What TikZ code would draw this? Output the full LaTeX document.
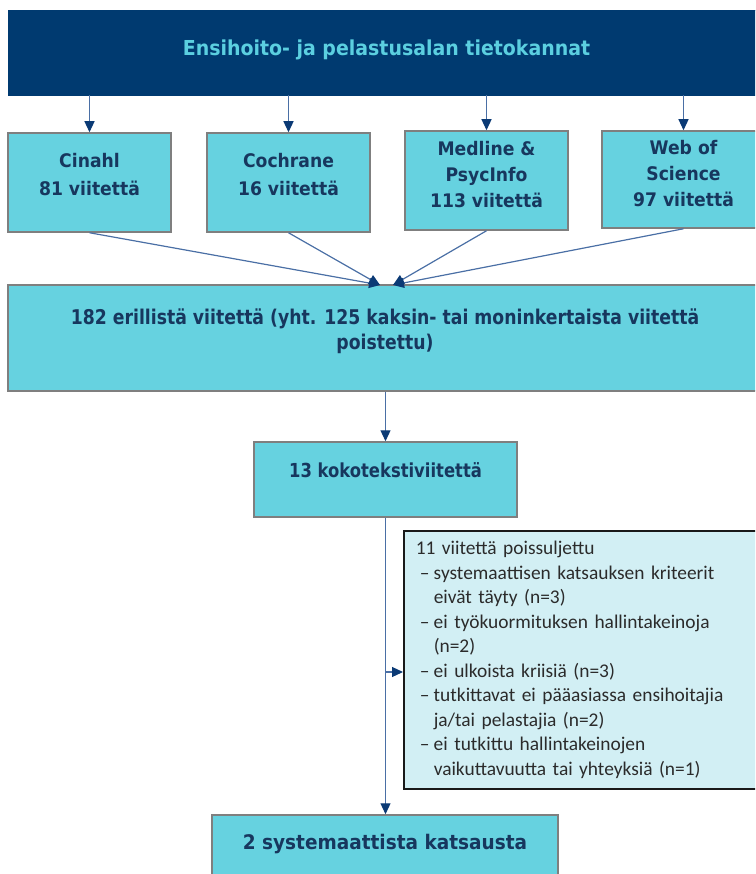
\documentclass[tikz,border=0pt]{standalone}
\usepackage{fontspec}
\setmainfont{DejaVu Sans}
\newfontfamily\boxfont[FakeStretch=0.92]{DejaVu Sans}
\newfontfamily\narrowfont[FakeStretch=0.85]{DejaVu Sans}
\newfontfamily\notefont{Carlito}
\usetikzlibrary{arrows.meta, positioning}
\usepackage{xcolor}

\definecolor{navybar}{HTML}{003A70}
\definecolor{titlecyan}{HTML}{5BCFE0}
\definecolor{boxcyan}{HTML}{66D2E0}
\definecolor{boxgray}{HTML}{7F7F7F}
\definecolor{boxnavy}{HTML}{17375E}
\definecolor{notefill}{HTML}{D2EFF4}
\definecolor{notetext}{HTML}{2B2B2B}
\definecolor{flowblue}{HTML}{4A6FA5}
\definecolor{tipnavy}{HTML}{0B3A75}

\newcommand{\dashitem}{\makebox[18pt][l]{\hspace{4pt}–}}
\newcommand{\contline}{\hspace*{18pt}}

\begin{document}
\begin{tikzpicture}[x=1pt, y=-1pt,
        bar/.style={fill=navybar, draw=navybar, minimum width=757pt, minimum height=85pt, text=titlecyan, text depth=9pt, font=\boxfont\bfseries\fontsize{20.6}{24}\selectfont},
        dbbox/.style={draw=boxgray, line width=1.5pt, fill=boxcyan, minimum width=163pt, minimum height=99pt, align=center, text=boxnavy, text depth=14pt, font=\boxfont\bfseries\fontsize{18.7}{26}\selectfont},
        stagebox/.style={dbbox, minimum height=75pt, font=\narrowfont\bfseries\fontsize{19.3}{24}\selectfont},
        notebox/.style={draw=black!90, line width=1.5pt, fill=notefill, text=notetext, text width=336pt, inner xsep=12pt, minimum height=258pt, align=left, anchor=north west, font=\notefont\fontsize{19.4}{24.5}\selectfont},
        flow/.style={draw=flowblue, line width=1.2pt, -{Triangle[length=11pt, width=10pt, color=tipnavy]}}
    ]
        \useasboundingbox (0,0) rectangle (755,874);
        \clip (0,0) rectangle (755,874);

        % databases
        \node[bar] (top) at (386.5,52.5) {Ensihoito- ja pelastusalan tietokannat};

        \node[dbbox, text depth=17pt, font=\boxfont\bfseries\fontsize{18.7}{28}\selectfont] (cinahl) at (89.5,182.5) {Cinahl\\81 viitettä};
        \node[dbbox, text depth=17pt, font=\boxfont\bfseries\fontsize{18.7}{28}\selectfont] (cochrane) at (288.5,182.5) {Cochrane\\16 viitettä};
        \node[dbbox, text depth=12pt] (medline) at (486.5,180.5) {Medline \&\\PsycInfo\\113 viitettä};
        \node[dbbox, minimum height=97pt, text depth=12pt] (wos) at (683.5,179.5) {Web of\\Science\\97 viitettä};

        % screening
        \node[stagebox, minimum width=754pt, minimum height=106pt, text depth=18pt, font=\narrowfont\bfseries\fontsize{20.3}{25}\selectfont] (unique) at (385,338) {182 erillistä viitettä (yht. 125 kaksin- tai moninkertaista viitettä\\poistettu)};
        \node[stagebox, minimum width=263pt, text depth=18pt] (fulltext) at (385.5,479.5) {13 kokotekstiviitettä};

        \node[notebox] (excluded) at (403,530) {11 viitettä poissuljettu\\
            \dashitem systemaattisen katsauksen kriteerit\\
            \contline eivät täyty (n=3)\\
            \dashitem ei työkuormituksen hallintakeinoja\\
            \contline (n=2)\\
            \dashitem ei ulkoista kriisiä (n=3)\\
            \dashitem tutkittavat ei pääasiassa ensihoitajia\\
            \contline ja/tai pelastajia (n=2)\\
            \dashitem ei tutkittu hallintakeinojen\\
            \contline vaikuttavuutta tai yhteyksiä (n=1)};

        \node[stagebox, minimum width=346pt, text depth=22pt, font=\boxfont\bfseries\fontsize{20.1}{24}\selectfont] (reviews) at (385,852.5) {2 systemaattista katsausta};

        % connectors
        \foreach \db in {cinahl, cochrane, medline, wos}
            \draw[flow] (top.south -| \db) -- (\db.north);

        \coordinate (mergeL) at (380,285);
        \coordinate (mergeR) at (393,285);
        \draw[flow] (cinahl.south) -- (mergeL);
        \draw[flow] (cochrane.south) -- (mergeL);
        \draw[flow] (medline.south) -- (mergeR);
        \draw[flow] (wos.south) -- (mergeR);

        \draw[flow] (unique.south -| fulltext) -- (fulltext.north);
        \draw[flow] (fulltext.south) -- (fulltext.south |- reviews.north);

        \coordinate (branchy) at (0,672);
        \coordinate (branch) at (fulltext.south |- branchy);
        \draw[flow] (branch) -- (branch -| excluded.west);

    \end{tikzpicture}
\end{document}
